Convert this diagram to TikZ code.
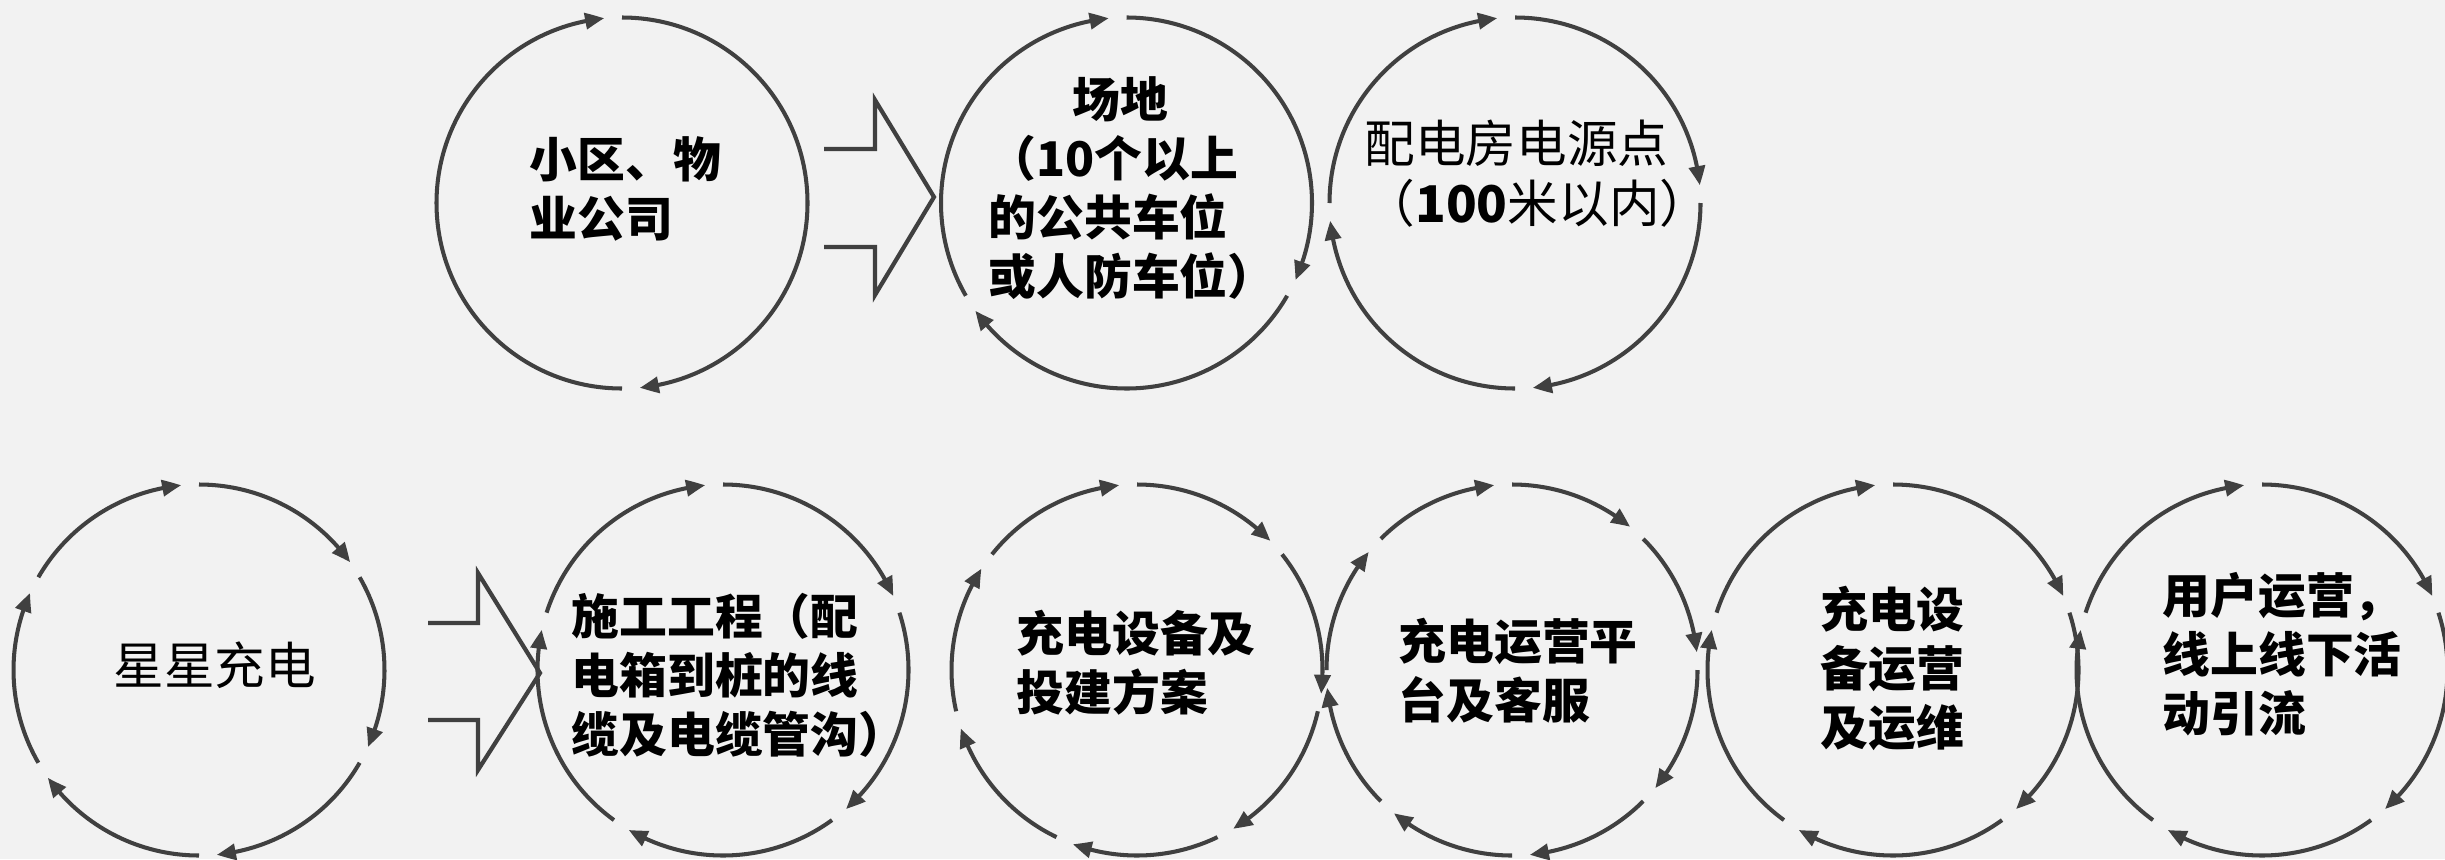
\documentclass[tikz,border=0pt]{standalone}
\usepackage{fontspec}
\usepackage{xcolor}
\usepackage{tikz}
\usetikzlibrary{arrows.meta,bending}
\newfontfamily\cjk{Noto Sans CJK SC}
\definecolor{bg}{HTML}{F2F2F2}
\definecolor{ink}{HTML}{404040}
\definecolor{txt}{HTML}{000000}
\tikzset{
  ring/.style={draw=ink, line width=1.15pt, -{Triangle[length=1.9mm,width=1.6mm,bend]}},
  blk/.style={draw=ink, line width=1.2pt, line join=miter},
  lab/.style={text=txt, font=\cjk\bfseries\fontsize{13.6}{16.8}\selectfont, align=left, inner sep=0pt, anchor=west},
  labr/.style={text=txt, font=\cjk\fontsize{14.4}{17}\selectfont, align=left, inner sep=0pt, anchor=west},
}
\newcommand\ringr{1.855}
% n arcs round a centre, clockwise, tip at the end of each
\newcommand\ringarcs[2]{%
  \foreach \k in {1,...,#2}{
    \pgfmathsetmacro\sa{90-(\k-1)*360/#2}
    \pgfmathsetmacro\ea{90-\k*360/#2+5.5}
    \draw[ring] (#1) ++(\sa:\ringr) arc[start angle=\sa, end angle=\ea, radius=\ringr];
  }}

\begin{document}
\begin{tikzpicture}
\useasboundingbox (0,0) rectangle (24.45,8.59);
\fill[bg] (0,0) rectangle (24.45,8.59);

% top row
\coordinate (wy) at (6.22,6.56);
\coordinate (cd) at (11.265,6.56);
\coordinate (pd) at (15.15,6.56);
\ringarcs{wy}{2}
\ringarcs{cd}{3}
\ringarcs{pd}{4}
\node[lab] (twy) at (5.29,6.70) {小区、物\\业公司};
\node[lab] (tcd) at (9.88,6.71) {\hspace*{1.75em}场地\\（10个以上\\的公共车位\\或人防车位）};
\node[labr] (tpd) at (13.64,6.85) {配电房电源点\\（{\bfseries 100}米以内）};
\draw[blk] (8.24,7.10) -- (8.75,7.10) -- (8.75,7.59) -- (9.34,6.62) -- (8.75,5.64) -- (8.75,6.12) -- (8.24,6.12);

% bottom row
\coordinate (xx) at (1.99,1.89);
\coordinate (sg) at (7.23,1.89);
\coordinate (fa) at (11.37,1.89);
\coordinate (pt) at (15.12,1.89);
\coordinate (yw) at (18.93,1.89);
\coordinate (yh) at (22.62,1.89);
\ringarcs{xx}{6}
\ringarcs{sg}{5}
\ringarcs{fa}{7}
\ringarcs{pt}{8}
\ringarcs{yw}{5}
\ringarcs{yh}{5}
\node[labr] (txx) at (1.13,1.94) {星星充电};
\node[lab] (tsg) at (5.71,1.835) {施工工程（配\\电箱到桩的线\\缆及电缆管沟）};
\node[lab] (tfa) at (10.16,1.965) {充电设备及\\投建方案};
\node[lab] (tpt) at (13.98,1.885) {充电运营平\\台及客服};
\node[lab] (tyw) at (18.20,1.905) {充电设\\备运营\\及运维};
\node[lab] (tyh) at (21.62,2.045) {用户运营，\\线上线下活\\动引流};
\draw[blk] (4.28,2.36) -- (4.78,2.36) -- (4.78,2.86) -- (5.40,1.86) -- (4.78,0.89) -- (4.78,1.39) -- (4.28,1.39);
\end{tikzpicture}
\end{document}
